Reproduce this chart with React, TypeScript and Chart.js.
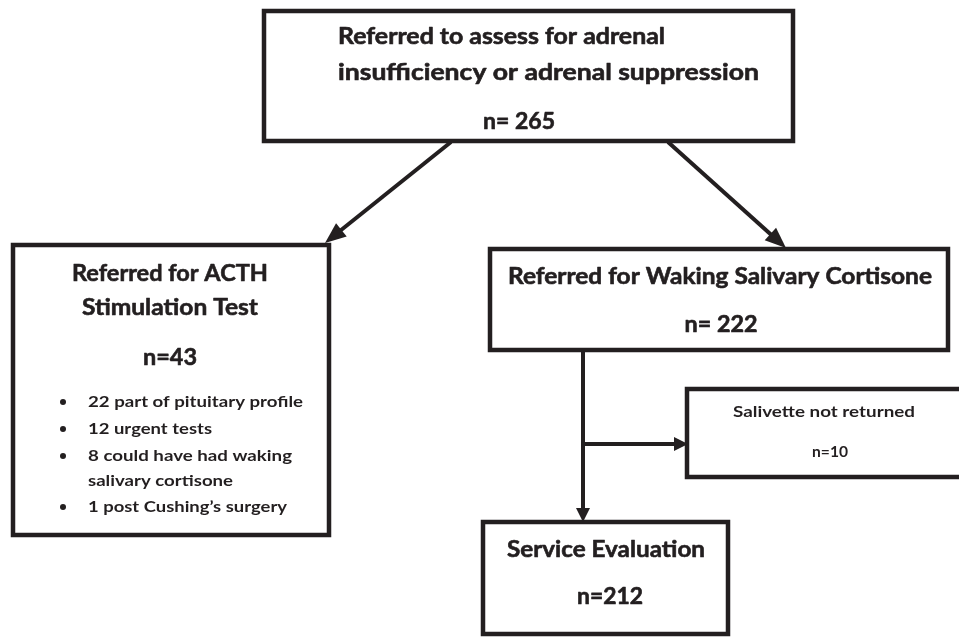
import React, { useEffect, useRef } from "react";
import { Chart, registerables } from "chart.js";

Chart.register(...registerables);

// ---- Flowchart data (in chart-scale units) ----
const BOX_NAMES = ["referred", "acth", "wsc", "salivette", "service"];
const BOX_LEFT = [264, 13, 490, 687, 483];
const BOX_RIGHT = [793, 329, 948, 985, 728];
const BOX_TOP = [11, 245, 249, 389, 522];
const BOX_BOTTOM = [141, 535, 350, 477, 634];

const ARROW_X0 = [451, 668, 583, 583];
const ARROW_Y0 = [142, 142, 350, 444];
const ARROW_X1 = [325, 786, 583, 688];
const ARROW_Y1 = [243, 248, 522, 444];
const ARROW_HEAD_LEN = [21, 21, 14, 14];
const ARROW_HEAD_W = [17, 17, 14, 14];

const LABEL_TEXT = [
  "Referred to assess for adrenal",
  "insufficiency or adrenal suppression",
  "n= 265",
  "Referred for ACTH",
  "Stimulation Test",
  "n=43",
  "22 part of pituitary profile",
  "12 urgent tests",
  "8 could have had waking",
  "salivary cortisone",
  "1 post Cushing\u2019s surgery",
  "Referred for Waking Salivary Cortisone",
  "n= 222",
  "Salivette not returned",
  "n=10",
  "Service Evaluation",
  "n=212",
];
const LABEL_X = [338, 338, 519, 170, 170, 170, 88, 88, 88, 88, 88, 720, 721, 824, 830, 606, 610];
const LABEL_Y = [37, 73, 122, 274, 308, 358, 402, 429, 456, 481, 507, 277, 325, 412, 452, 550, 597];
const LABEL_SIZE = [22, 22, 22, 23, 23, 23, 16, 16, 16, 16, 16, 22, 22, 16, 16, 22, 22];
const LABEL_ALIGN = ["left", "left", "center", "center", "center", "center", "left", "left", "left", "left", "left", "center", "center", "center", "center", "center", "center"];
const LABEL_WIDTH = [327, 421, 72, 196, 176, 54, 215, 124, 204, 145, 199, 424, 73, 182, 36, 198, 66];

const BULLET_X = [63, 63, 63, 63];
const BULLET_Y = [402, 429, 456, 507];

const INK = "#231f20";

export default function App() {
  const ref = useRef<HTMLCanvasElement | null>(null);

  useEffect(() => {
    if (!ref.current) return;

    const boxSets = BOX_NAMES.map((name, i) => ({
      label: name,
      data: [
        { x: BOX_LEFT[i], y: BOX_TOP[i] },
        { x: BOX_RIGHT[i], y: BOX_TOP[i] },
        { x: BOX_RIGHT[i], y: BOX_BOTTOM[i] },
        { x: BOX_LEFT[i], y: BOX_BOTTOM[i] },
        { x: BOX_LEFT[i], y: BOX_TOP[i] },
      ],
      showLine: true,
      borderColor: INK,
      borderWidth: 4.5,
      borderCapStyle: "square",
      borderJoinStyle: "miter",
      pointRadius: 0,
      tension: 0,
      fill: false,
    }));

    const arrowSets = ARROW_X0.map((x0, i) => {
      const dx = ARROW_X1[i] - x0;
      const dy = ARROW_Y1[i] - ARROW_Y0[i];
      const len = Math.hypot(dx, dy);
      const k = (len - ARROW_HEAD_LEN[i] * 0.7) / len;
      return {
        label: "arrow" + i,
        data: [
          { x: x0, y: ARROW_Y0[i] },
          { x: x0 + dx * k, y: ARROW_Y0[i] + dy * k },
        ],
        showLine: true,
        borderColor: INK,
        borderWidth: 4,
        borderCapStyle: "butt",
        pointRadius: 0,
        fill: false,
      };
    });

    const drawPlugin = {
      id: "flowText",
      afterDatasetsDraw(chart: any) {
        const ctx = chart.ctx;
        const xs = chart.scales.x;
        const ys = chart.scales.y;
        ctx.save();
        ctx.fillStyle = INK;
        ctx.strokeStyle = INK;
        // arrowheads
        ARROW_X0.forEach((x0, i) => {
          const px0 = xs.getPixelForValue(x0);
          const py0 = ys.getPixelForValue(ARROW_Y0[i]);
          const px1 = xs.getPixelForValue(ARROW_X1[i]);
          const py1 = ys.getPixelForValue(ARROW_Y1[i]);
          const a = Math.atan2(py1 - py0, px1 - px0);
          const hl = ARROW_HEAD_LEN[i];
          const hw = ARROW_HEAD_W[i];
          ctx.save();
          ctx.translate(px1, py1);
          ctx.rotate(a);
          ctx.beginPath();
          ctx.moveTo(0, 0);
          ctx.lineTo(-hl, -hw / 2);
          ctx.lineTo(-hl, hw / 2);
          ctx.closePath();
          ctx.fill();
          ctx.restore();
        });
        // text
        ctx.textBaseline = "middle";
        ctx.lineWidth = 0.6;
        ctx.lineJoin = "round";
        LABEL_TEXT.forEach((t, i) => {
          ctx.font = `bold ${LABEL_SIZE[i]}px Lato, "Open Sans", sans-serif`;
          const w = ctx.measureText(t).width;
          const sx = LABEL_WIDTH[i] / w;
          const px = xs.getPixelForValue(LABEL_X[i]);
          const py = ys.getPixelForValue(LABEL_Y[i]);
          ctx.save();
          ctx.translate(px, py);
          ctx.scale(sx, 1);
          ctx.textAlign = LABEL_ALIGN[i];
          ctx.fillText(t, 0, 0);
          if (LABEL_SIZE[i] >= 20) ctx.strokeText(t, 0, 0);
          ctx.restore();
        });
        // bullets
        BULLET_X.forEach((bx, i) => {
          ctx.beginPath();
          ctx.arc(xs.getPixelForValue(bx), ys.getPixelForValue(BULLET_Y[i]), 3, 0, Math.PI * 2);
          ctx.fill();
        });
        ctx.restore();
      },
    };

    const chart = new Chart(ref.current, {
      type: "scatter",
      data: { datasets: [...boxSets, ...arrowSets] as any },
      options: {
        animation: false,
        responsive: false,
        events: [],
        layout: { padding: 0 },
        plugins: { legend: { display: false }, tooltip: { enabled: false }, title: { display: false } },
        scales: {
          x: { type: "linear", min: 0, max: 959, display: false },
          y: { type: "linear", min: 0, max: 637, reverse: true, display: false },
        },
      } as any,
      plugins: [drawPlugin],
    });
    return () => chart.destroy();
  }, []);

  return (
    <div style={{ position: "fixed", left: 0, top: 0, width: 959, height: 637, background: "#fff" }}>
      <canvas ref={ref} width={959} height={637} style={{ display: "block" }} />
    </div>
  );
}
